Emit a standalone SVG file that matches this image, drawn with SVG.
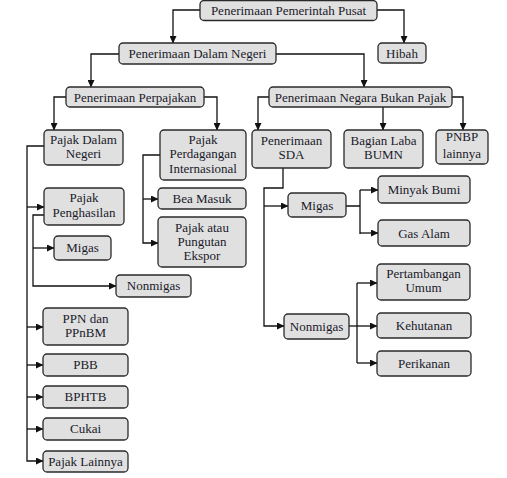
<svg xmlns="http://www.w3.org/2000/svg" width="507" height="478" viewBox="0 0 507 478" font-family="'Liberation Serif', 'Times New Roman', serif">
<style>
.b{fill:#e0e0e0;stroke:#2a2a2a;stroke-width:1.3}
text{font-family:'Liberation Serif','DejaVu Serif',serif;font-size:13px;fill:#1a1a2a;text-anchor:middle}
.c path{fill:none;stroke:#111;stroke-width:1.3}
.a{marker-end:url(#ar)}
</style>
<defs>
<marker id="ar" markerUnits="userSpaceOnUse" markerWidth="8" markerHeight="7" refX="7" refY="3.5" orient="auto">
<path d="M0,0 L7.5,3.5 L0,7 z" fill="#111"/>
</marker>
</defs>
<rect width="507" height="478" fill="#fff"/>
<g class="c">
<path class="a" d="M200,10 H173 V43"/>
<path class="a" d="M377,10 H404 V43"/>
<path class="a" d="M119,54 H91 V87"/>
<path class="a" d="M276,54 H364 V87"/>
<path class="a" d="M66,97 H54 V130"/>
<path class="a" d="M204,97 H217 V130"/>
<path class="a" d="M269,97 H258 V130"/>
<path class="a" d="M383,107 V130"/>
<path class="a" d="M452,97 H463 V130"/>
<path class="a" d="M44,146 H27 V461 H43"/>
<path class="a" d="M27,207 H44"/>
<path class="a" d="M27,327 H43"/>
<path class="a" d="M27,365 H43"/>
<path class="a" d="M27,397 H43"/>
<path class="a" d="M27,429 H43"/>
<path class="a" d="M160,155 H143 V243 H158"/>
<path class="a" d="M143,199 H158"/>
<path class="a" d="M44,215 H33 V286 H116"/>
<path class="a" d="M33,248 H54"/>
<path class="a" d="M283,168 V188 H264 V326 H284"/>
<path class="a" d="M264,206 H288"/>
<path d="M346,206 H360 M360,190 V234"/>
<path class="a" d="M360,190 H378"/>
<path class="a" d="M360,233 H378"/>
<path class="a" d="M349,326 H377"/>
<path d="M357,283 V363"/>
<path class="a" d="M357,283 H377"/>
<path class="a" d="M357,363 H377"/>
</g>
<g id="pusat"><rect class="b" x="200" y="0.5" width="177" height="20" rx="4"/><text x="288.5" y="15">Penerimaan Pemerintah Pusat</text></g>
<g id="dalam-negeri"><rect class="b" x="119" y="43" width="157" height="21" rx="4"/><text x="197.5" y="58">Penerimaan Dalam Negeri</text></g>
<g id="hibah"><rect class="b" x="378" y="43" width="48" height="20" rx="4"/><text x="402" y="58">Hibah</text></g>
<g id="perpajakan"><rect class="b" x="66" y="87" width="138" height="20" rx="4"/><text x="135" y="101.5">Penerimaan Perpajakan</text></g>
<g id="bukan-pajak"><rect class="b" x="269" y="87" width="183" height="20" rx="4"/><text x="360.5" y="101.5">Penerimaan Negara Bukan Pajak</text></g>
<g id="pajak-dn"><rect class="b" x="44" y="130" width="79" height="35" rx="4"/><text x="83.5" y="144">Pajak Dalam</text><text x="83.5" y="158">Negeri</text></g>
<g id="pajak-pi"><rect class="b" x="160" y="130" width="86" height="50" rx="4"/><text x="203" y="144">Pajak</text><text x="203" y="158">Perdagangan</text><text x="203" y="173">Internasional</text></g>
<g id="sda"><rect class="b" x="252" y="130" width="79" height="38" rx="4"/><text x="291.5" y="145">Penerimaan</text><text x="291.5" y="159">SDA</text></g>
<g id="bumn"><rect class="b" x="344" y="130" width="79" height="38" rx="4"/><text x="383.5" y="145">Bagian Laba</text><text x="383.5" y="159">BUMN</text></g>
<g id="pnbp-lain"><rect class="b" x="436" y="130" width="52" height="34" rx="4"/><text x="462" y="141">PNBP</text><text x="462" y="158">lainnya</text></g>
<g id="pph"><rect class="b" x="44" y="188" width="80" height="37" rx="4"/><text x="84" y="202">Pajak</text><text x="84" y="217">Penghasilan</text></g>
<g id="bea"><rect class="b" x="158" y="188" width="88" height="21" rx="4"/><text x="202" y="203">Bea Masuk</text></g>
<g id="ekspor"><rect class="b" x="158" y="217" width="88" height="50" rx="4"/><text x="202" y="232">Pajak atau</text><text x="202" y="246">Pungutan</text><text x="202" y="260">Ekspor</text></g>
<g id="migas-l"><rect class="b" x="54" y="236" width="57" height="24" rx="4"/><text x="82.5" y="252">Migas</text></g>
<g id="nonmigas-l"><rect class="b" x="116" y="275" width="75" height="22" rx="4"/><text x="153.5" y="290">Nonmigas</text></g>
<g id="ppn"><rect class="b" x="43" y="308" width="85" height="37" rx="4"/><text x="85.5" y="323">PPN dan</text><text x="85.5" y="337">PPnBM</text></g>
<g id="pbb"><rect class="b" x="43" y="354" width="85" height="22" rx="4"/><text x="85.5" y="369">PBB</text></g>
<g id="bphtb"><rect class="b" x="43" y="386" width="85" height="22" rx="4"/><text x="85.5" y="401">BPHTB</text></g>
<g id="cukai"><rect class="b" x="43" y="418" width="85" height="22" rx="4"/><text x="85.5" y="433">Cukai</text></g>
<g id="pajak-lain"><rect class="b" x="43" y="451" width="85" height="21" rx="4"/><text x="85.5" y="465.5">Pajak Lainnya</text></g>
<g id="migas-r"><rect class="b" x="288" y="193" width="58" height="24" rx="4"/><text x="317" y="209.5">Migas</text></g>
<g id="minyak"><rect class="b" x="378" y="176" width="92" height="27" rx="4"/><text x="424" y="193.5">Minyak Bumi</text></g>
<g id="gas"><rect class="b" x="378" y="220" width="92" height="26" rx="4"/><text x="424" y="237.5">Gas Alam</text></g>
<g id="tambang"><rect class="b" x="377" y="264" width="93" height="36" rx="4"/><text x="423.5" y="278">Pertambangan</text><text x="423.5" y="292">Umum</text></g>
<g id="nonmigas-r"><rect class="b" x="284" y="314" width="65" height="25" rx="4"/><text x="316.5" y="330.5">Nonmigas</text></g>
<g id="hutan"><rect class="b" x="377" y="313" width="94" height="25" rx="4"/><text x="424" y="329.5">Kehutanan</text></g>
<g id="ikan"><rect class="b" x="377" y="351" width="94" height="25" rx="4"/><text x="424" y="367.5">Perikanan</text></g>
</svg>
